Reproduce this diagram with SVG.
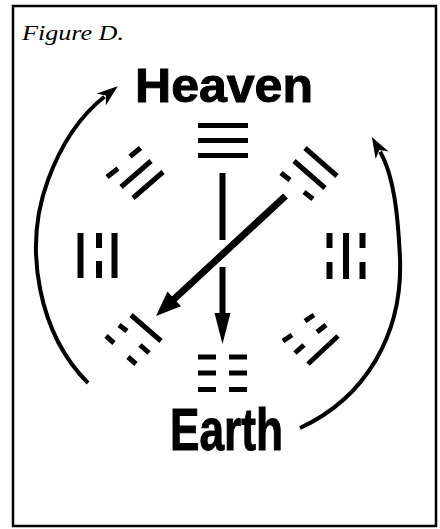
<svg xmlns="http://www.w3.org/2000/svg" width="440" height="529" viewBox="0 0 440 529">
<style>
.frame{fill:#fff;stroke:#000;stroke-width:2.5}
.big{font-family:"Liberation Sans",Arial,sans-serif;font-weight:bold;fill:#000;stroke:#000;stroke-width:1}
.cap{font-family:"Liberation Serif","Times New Roman",serif;font-style:italic;fill:#000}
.bar{stroke:#000;stroke-width:5;fill:none}
.vbar{stroke:#000;stroke-width:6;fill:none}
.arc{stroke:#000;stroke-width:4;fill:none;marker-end:url(#arcHead)}
.shaft{stroke:#000;fill:none}
</style>
<defs>
<marker id="arcHead" markerUnits="userSpaceOnUse" markerWidth="30" markerHeight="30" refX="0" refY="0" orient="auto" overflow="visible">
<path d="M-4,-7.5 L17,0 L-4,7.5 L2,0 Z" fill="#000"/>
</marker>
</defs>
<rect class="frame" x="13" y="6" width="423" height="520"/>
<text class="cap" x="22" y="40" font-size="22" textLength="102" lengthAdjust="spacingAndGlyphs">Figure D.</text>
<g id="heaven-label"><text class="big" x="135" y="102" font-size="49" textLength="178" lengthAdjust="spacingAndGlyphs">Heaven</text></g>
<g id="earth-label"><text class="big" x="170" y="450" font-size="59" textLength="113" lengthAdjust="spacingAndGlyphs">Earth</text></g>
<g id="qian">
<line class="bar" x1="198" y1="125.5" x2="248" y2="125.5"/>
<line class="bar" x1="198" y1="140.5" x2="248" y2="140.5"/>
<line class="bar" x1="198" y1="155.5" x2="248" y2="155.5"/>
</g>
<g id="dui">
<line class="bar" x1="130" y1="156.5" x2="140.5" y2="148"/>
<line class="bar" x1="107" y1="177" x2="118" y2="168.5"/>
<line class="bar" x1="121" y1="187" x2="151" y2="161"/>
<line class="bar" x1="133" y1="198" x2="163" y2="172"/>
</g>
<g id="xun">
<line class="bar" x1="305" y1="148" x2="337" y2="176"/>
<line class="bar" x1="294" y1="161" x2="325" y2="188"/>
<line class="bar" x1="281" y1="173" x2="290" y2="180"/>
<line class="bar" x1="304" y1="192" x2="313" y2="199"/>
</g>
<g id="li">
<line class="vbar" x1="80.5" y1="233" x2="80.5" y2="278"/>
<line class="vbar" x1="99" y1="233" x2="99" y2="248"/>
<line class="vbar" x1="99" y1="261" x2="99" y2="278"/>
<line class="vbar" x1="114.5" y1="233" x2="114.5" y2="278"/>
</g>
<g id="kan">
<line class="vbar" x1="329.5" y1="233" x2="329.5" y2="248"/>
<line class="vbar" x1="329.5" y1="262" x2="329.5" y2="279"/>
<line class="vbar" x1="346" y1="233" x2="346" y2="279"/>
<line class="vbar" x1="362.5" y1="233" x2="362.5" y2="248"/>
<line class="vbar" x1="362.5" y1="262" x2="362.5" y2="279"/>
</g>
<g id="zhen">
<line class="bar" x1="131" y1="315" x2="161" y2="341"/>
<line class="bar" x1="119" y1="325" x2="127" y2="331"/>
<line class="bar" x1="140" y1="345" x2="149" y2="353"/>
<line class="bar" x1="106" y1="336" x2="114" y2="343"/>
<line class="bar" x1="128" y1="357" x2="136" y2="364"/>
</g>
<g id="gen">
<line class="bar" x1="305" y1="321" x2="314" y2="315"/>
<line class="bar" x1="317" y1="332" x2="326" y2="325"/>
<line class="bar" x1="283" y1="341" x2="292" y2="335"/>
<line class="bar" x1="295" y1="353" x2="304" y2="345"/>
<line class="bar" x1="308" y1="364" x2="338" y2="336"/>
</g>
<g id="kun">
<line class="bar" x1="198" y1="357" x2="216" y2="357"/>
<line class="bar" x1="229" y1="357" x2="247" y2="357"/>
<line class="bar" x1="198" y1="373" x2="216" y2="373"/>
<line class="bar" x1="229" y1="373" x2="247" y2="373"/>
<line class="bar" x1="198" y1="389.5" x2="216" y2="389.5"/>
<line class="bar" x1="229" y1="389.5" x2="247" y2="389.5"/>
</g>
<g id="connectors">
<path class="arc" d="M88,383 C40,335 22,250 48,180 C62,142 80,116 104.4,96.8"/>
<path class="arc" d="M300,428 C365,398 403,335 400,258 C398,215 394,176 380.2,151.7"/>
<line class="shaft" stroke-width="6" x1="222.5" y1="173" x2="222.5" y2="240"/>
<line class="shaft" stroke-width="6" x1="222.5" y1="267" x2="222.5" y2="316"/>
<polygon points="214.5,313 230.5,313 222.5,344" fill="#000"/>
<line class="shaft" stroke-width="7" x1="285.5" y1="196" x2="172" y2="301"/>
<polygon points="167.5,291.5 181,306.3 156,316" fill="#000"/>
</g>
</svg>
